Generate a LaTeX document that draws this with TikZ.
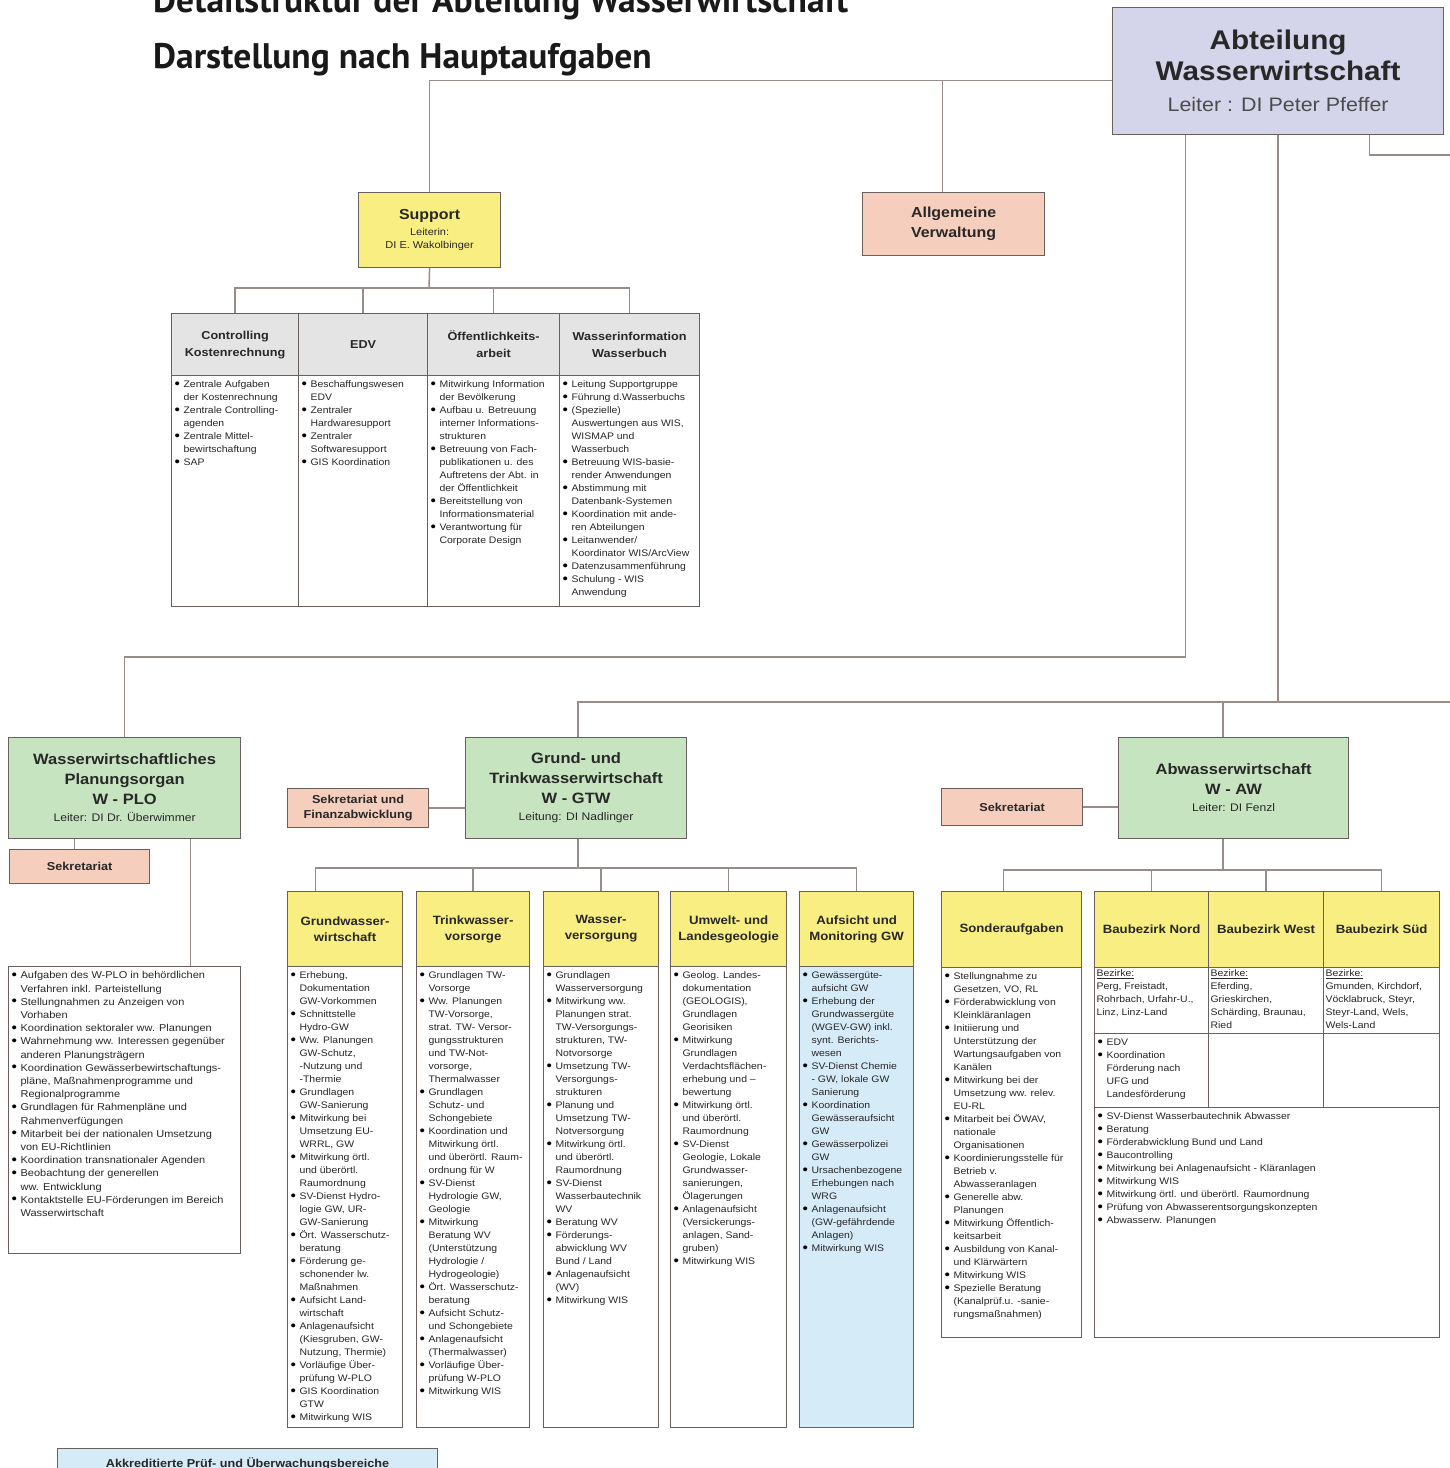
\documentclass[tikz,border=0pt]{standalone}
\usepackage{fontspec}
\setmainfont{Liberation Sans}[FakeStretch=1.1]
\newfontfamily\titelfont{PT Sans}
\usetikzlibrary{positioning}

\definecolor{lila}{RGB}{212,212,234}
\definecolor{gelb}{RGB}{248,238,130}
\definecolor{lachs}{RGB}{246,206,190}
\definecolor{gruen}{RGB}{199,228,193}
\definecolor{grau}{RGB}{228,228,228}
\definecolor{hellblau}{RGB}{214,235,248}
\definecolor{rahmen}{RGB}{105,95,92}
\definecolor{linie}{RGB}{150,140,137}
\definecolor{schrift}{RGB}{40,40,40}

% Schriften
\newcommand\fTitel{\titelfont\bfseries\fontsize{35.5}{42}\selectfont}
\newcommand\fAbt{\fontsize{27}{31}\selectfont\bfseries}
\newcommand\fAbtLeiter{\fontsize{19.5}{31}\selectfont\mdseries\color{black!70}}
\newcommand\fGruppe{\fontsize{15}{20}\selectfont\bfseries}
\newcommand\fLeiter{\fontsize{11}{14}\selectfont\mdseries}
\newcommand\fStab{\fontsize{14.5}{19}\selectfont\bfseries}
\newcommand\fKlein{\fontsize{10}{13}\selectfont\mdseries}
\newcommand\fKopf{\fontsize{12}{16}\selectfont\bfseries}
\newcommand\fSek{\fontsize{11.5}{15}\selectfont\bfseries}
\newcommand\fListe{\fontsize{9.5}{13}\selectfont}
\newcommand\fListeW{\fontsize{10}{13.2}\selectfont}

% Listen
\newcommand\bul{\makebox[9pt][l]{\smash{\fontsize{14}{14}\selectfont\color{black}\raisebox{-0.6pt}{\textbullet}}}&}
\newcommand\punkte[1]{\begin{tabular}[t]{@{}l@{}l@{}}#1\end{tabular}}
\newcommand\feld[3]{\parbox[t][#2pt][t]{#1pt}{\raggedright #3}}

\tikzset{%
	% Specifications for style of nodes:
	base/.style = {rectangle, anchor=north west, draw=rahmen, line width=1.2pt,
		text=schrift, inner sep=2pt, align=center},
	leitung/.style = {base, fill=lila, font=\fAbt},
	gruppe/.style = {base, fill=gruen, font=\fGruppe},
	referat/.style = {base, fill=gelb, font=\fKopf},
	kopf/.style = {base, fill=grau, font=\fSek},
	stab/.style = {base, fill=lachs, font=\fSek},
	liste/.style = {base, align=left, inner sep=3pt, fill=white, font=\fListe},
	verbindung/.style = {draw=linie, line width=1.5pt}
}

\begin{document}
\begin{tikzpicture}[x=1pt, y=-1pt]
	\useasboundingbox (0,0) rectangle (1450,1468);
	\node (titel1) [anchor=base west, inner sep=0pt, font=\fTitel, text=black!90] at (153,12.7) {Detailstruktur der Abteilung Wasserwirtschaft};
	\node (titel2) [anchor=base west, inner sep=0pt, font=\fTitel, text=black!90] at (153,68) {Darstellung nach Hauptaufgaben};

	% Leitung und Stab
	\node (abt) [leitung, minimum width=331pt, minimum height=127pt] at (1112,7) {Abteilung\\Wasserwirtschaft\\{\fAbtLeiter Leiter : DI Peter Pfeffer}};
	\node (support) [base, fill=gelb, font=\fStab, minimum width=142pt, minimum height=75pt] at (358,192) {Support\\[-3pt]{\fKlein Leiterin:}\\[-6pt]{\fKlein DI E. Wakolbinger}};
	\node (verw) [stab, font=\fStab, minimum width=182pt, minimum height=63pt] at (862,192) {Allgemeine\\[1pt]Verwaltung};

	% Support
	\node (ctrlKopf) [kopf, minimum width=127pt, minimum height=62pt] at (171,313) {Controlling\\[2pt]Kostenrechnung};
	\node (edvKopf) [kopf, minimum width=129pt, minimum height=62pt] at (298,313) {EDV};
	\node (oeffKopf) [kopf, minimum width=132pt, minimum height=62pt] at (427,313) {Öffentlichkeits-\\[2pt]arbeit};
	\node (winfoKopf) [kopf, minimum width=140pt, minimum height=62pt] at (559,313) {Wasserinformation\\[2pt]Wasserbuch};
	\node (ctrlListe) [liste] at (171,375) {\feld{121}{225}{\punkte{%
		\bul Zentrale Aufgaben\\ & der Kostenrechnung\\
		\bul Zentrale Controlling-\\ & agenden\\
		\bul Zentrale Mittel-\\ & bewirtschaftung\\
		\bul SAP}}};
	\node (edvListe) [liste] at (298,375) {\feld{123}{225}{\punkte{%
		\bul Beschaffungswesen\\ & EDV\\
		\bul Zentraler\\ & Hardwaresupport\\
		\bul Zentraler\\ & Softwaresupport\\
		\bul GIS Koordination}}};
	\node (oeffListe) [liste] at (427,375) {\feld{126}{225}{\punkte{%
		\bul Mitwirkung Information\\ & der Bevölkerung\\
		\bul Aufbau u. Betreuung\\ & interner Informations-\\ & strukturen\\
		\bul Betreuung von Fach-\\ & publikationen u. des\\ & Auftretens der Abt. in\\ & der Öffentlichkeit\\
		\bul Bereitstellung von\\ & Informationsmaterial\\
		\bul Verantwortung für\\ & Corporate Design}}};
	\node (winfoListe) [liste] at (559,375) {\feld{134}{225}{\punkte{%
		\bul Leitung Supportgruppe\\
		\bul Führung d.Wasserbuchs\\
		\bul (Spezielle)\\ & Auswertungen aus WIS,\\ & WISMAP und\\ & Wasserbuch\\
		\bul Betreuung WIS-basie-\\ & render Anwendungen\\
		\bul Abstimmung mit\\ & Datenbank-Systemen\\
		\bul Koordination mit ande-\\ & ren Abteilungen\\
		\bul Leitanwender/\\ & Koordinator WIS/ArcView\\
		\bul Datenzusammenführung\\
		\bul Schulung - WIS\\ & Anwendung}}};

	% W-PLO
	\node (wplo) [gruppe, minimum width=232pt, minimum height=101pt] at (8,737) {Wasserwirtschaftliches\\Planungsorgan\\W - PLO\\[-3pt]{\fLeiter Leiter: DI Dr. Überwimmer}};
	\node (wploSek) [stab, minimum width=140pt, minimum height=34pt] at (9,849) {Sekretariat};
	\node (wploListe) [liste, font=\fListeW] at (8,966) {\feld{226}{281}{\punkte{%
		\bul Aufgaben des W-PLO in behördlichen\\ & Verfahren inkl. Parteistellung\\
		\bul Stellungnahmen zu Anzeigen von\\ & Vorhaben\\
		\bul Koordination sektoraler ww. Planungen\\
		\bul Wahrnehmung ww. Interessen gegenüber\\ & anderen Planungsträgern\\
		\bul Koordination Gewässerbewirtschaftungs-\\ & pläne, Maßnahmenprogramme und\\ & Regionalprogramme\\
		\bul Grundlagen für Rahmenpläne und\\ & Rahmenverfügungen\\
		\bul Mitarbeit bei der nationalen Umsetzung\\ & von EU-Richtlinien\\
		\bul Koordination transnationaler Agenden\\
		\bul Beobachtung der generellen\\ & ww. Entwicklung\\
		\bul Kontaktstelle EU-Förderungen im Bereich\\ & Wasserwirtschaft}}};

	% W-GTW
	\node (gtw) [gruppe, minimum width=221pt, minimum height=101pt] at (465,737) {Grund- und\\Trinkwasserwirtschaft\\W - GTW\\[-3pt]{\fLeiter Leitung: DI Nadlinger}};
	\node (gtwSek) [stab, minimum width=141pt, minimum height=39pt] at (287,788) {Sekretariat und\\Finanzabwicklung};
	\node (gwwKopf) [referat, minimum width=115pt, minimum height=75pt] at (287,891) {Grundwasser-\\wirtschaft};
	\node (twvKopf) [referat, minimum width=113pt, minimum height=75pt] at (416,891) {Trinkwasser-\\vorsorge};
	\node (wvKopf) [referat, minimum width=115pt, minimum height=75pt] at (543,891) {Wasser-\\versorgung};
	\node (ulgKopf) [referat, minimum width=116pt, minimum height=75pt] at (670,891) {Umwelt- und\\Landesgeologie};
	\node (amgwKopf) [referat, minimum width=114pt, minimum height=75pt] at (799,891) {Aufsicht und\\Monitoring GW};
	\node (gwwListe) [liste] at (287,966) {\feld{109}{455}{\punkte{%
		\bul Erhebung,\\ & Dokumentation\\ & GW-Vorkommen\\
		\bul Schnittstelle\\ & Hydro-GW\\
		\bul Ww. Planungen\\ & GW-Schutz,\\ & -Nutzung und\\ & -Thermie\\
		\bul Grundlagen\\ & GW-Sanierung\\
		\bul Mitwirkung bei\\ & Umsetzung EU-\\ & WRRL, GW\\
		\bul Mitwirkung örtl.\\ & und überörtl.\\ & Raumordnung\\
		\bul SV-Dienst Hydro-\\ & logie GW, UR-\\ & GW-Sanierung\\
		\bul Ört. Wasserschutz-\\ & beratung\\
		\bul Förderung ge-\\ & schonender lw.\\ & Maßnahmen\\
		\bul Aufsicht Land-\\ & wirtschaft\\
		\bul Anlagenaufsicht\\ & (Kiesgruben, GW-\\ & Nutzung, Thermie)\\
		\bul Vorläufige Über-\\ & prüfung W-PLO\\
		\bul GIS Koordination\\ & GTW\\
		\bul Mitwirkung WIS}}};
	\node (twvListe) [liste] at (416,966) {\feld{107}{455}{\punkte{%
		\bul Grundlagen TW-\\ & Vorsorge\\
		\bul Ww. Planungen\\ & TW-Vorsorge,\\ & strat. TW- Versor-\\ & gungsstrukturen\\ & und TW-Not-\\ & vorsorge,\\ & Thermalwasser\\
		\bul Grundlagen\\ & Schutz- und\\ & Schongebiete\\
		\bul Koordination und\\ & Mitwirkung örtl.\\ & und überörtl. Raum-\\ & ordnung für W\\
		\bul SV-Dienst\\ & Hydrologie GW,\\ & Geologie\\
		\bul Mitwirkung\\ & Beratung WV\\ & (Unterstützung\\ & Hydrologie /\\ & Hydrogeologie)\\
		\bul Ört. Wasserschutz-\\ & beratung\\
		\bul Aufsicht Schutz-\\ & und Schongebiete\\
		\bul Anlagenaufsicht\\ & (Thermalwasser)\\
		\bul Vorläufige Über-\\ & prüfung W-PLO\\
		\bul Mitwirkung WIS}}};
	\node (wvListe) [liste] at (543,966) {\feld{109}{455}{\punkte{%
		\bul Grundlagen\\ & Wasserversorgung\\
		\bul Mitwirkung ww.\\ & Planungen strat.\\ & TW-Versorgungs-\\ & strukturen, TW-\\ & Notvorsorge\\
		\bul Umsetzung TW-\\ & Versorgungs-\\ & strukturen\\
		\bul Planung und\\ & Umsetzung TW-\\ & Notversorgung\\
		\bul Mitwirkung örtl.\\ & und überörtl.\\ & Raumordnung\\
		\bul SV-Dienst\\ & Wasserbautechnik\\ & WV\\
		\bul Beratung WV\\
		\bul Förderungs-\\ & abwicklung WV\\ & Bund / Land\\
		\bul Anlagenaufsicht\\ & (WV)\\
		\bul Mitwirkung WIS}}};
	\node (ulgListe) [liste] at (670,966) {\feld{110}{455}{\punkte{%
		\bul Geolog. Landes-\\ & dokumentation\\ & (GEOLOGIS),\\ & Grundlagen\\ & Georisiken\\
		\bul Mitwirkung\\ & Grundlagen\\ & Verdachtsflächen-\\ & erhebung und –\\ & bewertung\\
		\bul Mitwirkung örtl.\\ & und überörtl.\\ & Raumordnung\\
		\bul SV-Dienst\\ & Geologie, Lokale\\ & Grundwasser-\\ & sanierungen,\\ & Ölagerungen\\
		\bul Anlagenaufsicht\\ & (Versickerungs-\\ & anlagen, Sand-\\ & gruben)\\
		\bul Mitwirkung WIS}}};
	\node (amgwListe) [liste, fill=hellblau] at (799,966) {\feld{108}{455}{\punkte{%
		\bul Gewässergüte-\\ & aufsicht GW\\
		\bul Erhebung der\\ & Grundwassergüte\\ & (WGEV-GW) inkl.\\ & synt. Berichts-\\ & wesen\\
		\bul SV-Dienst Chemie\\ & - GW, lokale GW\\ & Sanierung\\
		\bul Koordination\\ & Gewässeraufsicht\\ & GW\\
		\bul Gewässerpolizei\\ & GW\\
		\bul Ursachenbezogene\\ & Erhebungen nach\\ & WRG\\
		\bul Anlagenaufsicht\\ & (GW-gefährdende\\ & Anlagen)\\
		\bul Mitwirkung WIS}}};
	\node (akkr) [base, fill=hellblau, font=\fSek, minimum width=380pt, minimum height=30pt] at (57,1448) {Akkreditierte Prüf- und Überwachungsbereiche};

	% W-AW
	\node (aw) [gruppe, minimum width=230pt, minimum height=101pt] at (1118,737) {Abwasserwirtschaft\\W - AW\\[-3pt]{\fLeiter Leiter: DI Fenzl}};
	\node (awSek) [stab, minimum width=141pt, minimum height=37pt] at (941,788) {Sekretariat};
	\node (sonderKopf) [referat, minimum width=140pt, minimum height=76pt] at (941,891) {Sonderaufgaben};
	\node (nordKopf) [referat, minimum width=114pt, minimum height=76pt] at (1094,891) {Baubezirk Nord};
	\node (westKopf) [referat, minimum width=115pt, minimum height=76pt] at (1208,891) {Baubezirk West};
	\node (suedKopf) [referat, minimum width=116pt, minimum height=76pt] at (1323,891) {Baubezirk Süd};
	\node (sonderListe) [liste] at (941,967) {\feld{134}{364}{\punkte{%
		\bul Stellungnahme zu\\ & Gesetzen, VO, RL\\
		\bul Förderabwicklung von\\ & Kleinkläranlagen\\
		\bul Initiierung und\\ & Unterstützung der\\ & Wartungsaufgaben von\\ & Kanälen\\
		\bul Mitwirkung bei der\\ & Umsetzung ww. relev.\\ & EU-RL\\
		\bul Mitarbeit bei ÖWAV,\\ & nationale\\ & Organisationen\\
		\bul Koordinierungsstelle für\\ & Betrieb v.\\ & Abwasseranlagen\\
		\bul Generelle abw.\\ & Planungen\\
		\bul Mitwirkung Öffentlich-\\ & keitsarbeit\\
		\bul Ausbildung von Kanal-\\ & und Klärwärtern\\
		\bul Mitwirkung WIS\\
		\bul Spezielle Beratung\\ & (Kanalprüf.u. -sanie-\\ & rungsmaßnahmen)}}};
	\node (nordBezirke) [liste, inner sep=2pt] at (1094,967) {\feld{110}{62}{\underline{Bezirke:}\\Perg, Freistadt,\\Rohrbach, Urfahr-U.,\\Linz, Linz-Land}};
	\node (westBezirke) [liste, inner sep=2pt] at (1208,967) {\feld{111}{62}{\underline{Bezirke:}\\Eferding,\\Grieskirchen,\\Schärding, Braunau,\\Ried}};
	\node (suedBezirke) [liste, inner sep=2pt] at (1323,967) {\feld{112}{62}{\underline{Bezirke:}\\Gmunden, Kirchdorf,\\Vöcklabruck, Steyr,\\Steyr-Land, Wels,\\Wels-Land}};
	\node (nordAufgaben) [liste] at (1094,1033) {\feld{108}{68}{\punkte{%
		\bul EDV\\
		\bul Koordination\\ & Förderung nach\\ & UFG und\\ & Landesförderung}}};
	\node (westAufgaben) [liste, minimum width=115pt, minimum height=74pt] at (1208,1033) {};
	\node (suedAufgaben) [liste, minimum width=116pt, minimum height=74pt] at (1323,1033) {};
	\node (awListe) [liste] at (1094,1107) {\feld{339}{224}{\punkte{%
		\bul SV-Dienst Wasserbautechnik Abwasser\\
		\bul Beratung\\
		\bul Förderabwicklung Bund und Land\\
		\bul Baucontrolling\\
		\bul Mitwirkung bei Anlagenaufsicht - Kläranlagen\\
		\bul Mitwirkung WIS\\
		\bul Mitwirkung örtl. und überörtl. Raumordnung\\
		\bul Prüfung von Abwasserentsorgungskonzepten\\
		\bul Abwasserw. Planungen}}};

	% Verbindungen
	\coordinate (abtLinks) at ([yshift=-9.5pt]abt.west);
	\coordinate (schieneRechts) at (1460,155);
	\coordinate (schieneWplo) at (0,657);
	\coordinate (schieneMitte) at (1460,702);
	\coordinate (supportKnoten) at (429,288);
	\coordinate (gtwKnoten) at (578,868);
	\coordinate (awKnoten) at (1223,870);
	\draw[verbindung] (abtLinks) -| (support.north);
	\draw[verbindung] ([xshift=-11pt]verw.north) -- ([xshift=-11pt]verw.north |- abtLinks);
	\draw[verbindung] ([xshift=91.5pt]abt.south) |- (schieneRechts);
	\draw[verbindung] ([xshift=-92.5pt]abt.south) |- (wplo.north |- schieneWplo) -- (wplo.north);
	\draw[verbindung] (abt.south) |- (schieneMitte);
	\draw[verbindung] (gtw.north -| gtwKnoten) |- (schieneMitte);
	\draw[verbindung] (aw.north -| awKnoten) |- (schieneMitte);
	\draw[verbindung] (support.south) -- (supportKnoten);
	\foreach \k in {ctrlKopf,edvKopf,oeffKopf,winfoKopf}
		\draw[verbindung] (\k.north) |- (supportKnoten);
	\draw[verbindung] ([xshift=-5pt]wploSek.north) -- ([xshift=-5pt]wploSek.north |- wplo.south);
	\draw[verbindung] ([xshift=66pt]wplo.south) -- ([xshift=66pt]wplo.south |- wploListe.north);
	\draw[verbindung] (gtwSek.east) -- (gtwSek.east -| gtw.west);
	\draw[verbindung] (gtw.south -| gtwKnoten) -- (gtwKnoten);
	\draw[verbindung] ([xshift=-29.5pt]gwwKopf.north) |- (gtwKnoten);
	\foreach \k in {twvKopf,wvKopf,ulgKopf,amgwKopf}
		\draw[verbindung] (\k.north) |- (gtwKnoten);
	\draw[verbindung] (awSek.east) -- (awSek.east -| aw.west);
	\draw[verbindung] (aw.south -| awKnoten) -- (awKnoten);
	\draw[verbindung] ([xshift=-8pt]sonderKopf.north) |- (awKnoten);
	\foreach \k in {nordKopf,westKopf,suedKopf}
		\draw[verbindung] (\k.north) |- (awKnoten);
\end{tikzpicture}
\end{document}
